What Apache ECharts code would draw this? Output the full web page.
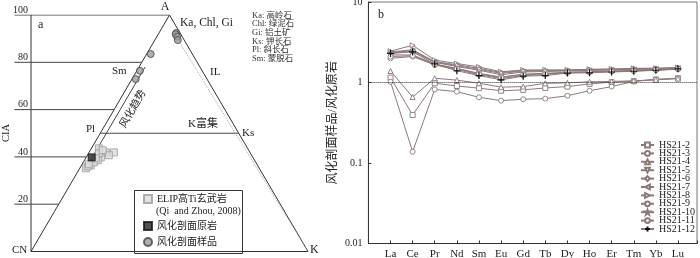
<!DOCTYPE html>
<html><head><meta charset="utf-8">
<script src="https://cdn.jsdelivr.net/npm/echarts@6/dist/echarts.min.js"></script>
<style>html,body{margin:0;padding:0;background:#fff}#c{width:700px;height:258px}</style>
</head><body><div id="c"></div>
<script>
// ===== Panel a : A-CN-K ternary (A = CIA axis, K = K2O share, %) =====
const ciaTicks = [20, 40, 60, 80, 100];
const elipA = [43.6, 41.9, 41.9, 40.7, 39.8, 38.6, 36.4, 35.2, 36.0, 37.7, 41.5, 42.8, 39.4, 36.9];
const elipK = [2.7, 6.05, 8.95, 7.75, 5.3, 4.8, 3.4, 2.2, 2.5, 3.85, 3.75, 4.5, 3.7, 2.45];
const parentA = [39.8];
const parentK = [2.0];
const sampleA = [92.4, 91.9, 90.8, 89.4, 83.5, 76.4, 72.9];
const sampleK = [6.3, 6.25, 7.4, 8.3, 1.45, 1.1, 1.35];
const plKsCIA = 50;
const trendA = [41.5, 78.0];
const trendK = [2.2, 2.2];
const ilA = [88.1, 0];
const ilK = [9.75, 100];

// ===== Panel b : REE patterns =====
const ree = ['La','Ce','Pr','Nd','Sm','Eu','Gd','Tb','Dy','Ho','Er','Tm','Yb','Lu'];
const sampleNames = ['HS21-2','HS21-3','HS21-4','HS21-5','HS21-6','HS21-7','HS21-8','HS21-9','HS21-10','HS21-11','HS21-12'];
const hs21_2  = [1.15, 0.395, 0.98, 0.905, 0.85, 0.79, 0.81, 0.855, 0.89, 0.96, 1.01, 1.04, 1.09, 1.13];
const hs21_3  = [1.02, 0.138, 0.82, 0.77, 0.655, 0.595, 0.62, 0.63, 0.685, 0.79, 0.89, 1.03, 1.09, 1.12];
const hs21_4  = [1.39, 0.66, 1.13, 1.07, 0.98, 0.875, 0.89, 0.975, 0.99, 1.02, 1.03, 1.05, 1.08, 1.12];
const hs21_5  = [2.2, 2.2, 1.7, 1.5, 1.3, 1.17, 1.27, 1.3, 1.34, 1.36, 1.38, 1.41, 1.43, 1.47];
const hs21_6  = [2.35, 2.5, 1.8, 1.62, 1.45, 1.3, 1.38, 1.4, 1.41, 1.43, 1.45, 1.47, 1.48, 1.5];
const hs21_7  = [2.3, 2.45, 1.78, 1.58, 1.42, 1.25, 1.35, 1.37, 1.39, 1.41, 1.43, 1.45, 1.47, 1.5];
const hs21_8  = [2.45, 2.9, 1.9, 1.72, 1.56, 1.36, 1.43, 1.43, 1.43, 1.46, 1.47, 1.5, 1.5, 1.53];
const hs21_9  = [2.0, 2.1, 1.65, 1.45, 1.25, 1.12, 1.22, 1.26, 1.32, 1.34, 1.37, 1.39, 1.42, 1.46];
const hs21_10 = [2.4, 2.55, 1.82, 1.66, 1.5, 1.33, 1.41, 1.42, 1.42, 1.45, 1.46, 1.49, 1.5, 1.53];
const hs21_11 = [2.1, 2.15, 1.68, 1.48, 1.28, 1.15, 1.25, 1.28, 1.33, 1.35, 1.38, 1.4, 1.44, 1.48];
const hs21_12 = [2.3, 2.4, 1.7, 1.4, 1.22, 1.08, 1.2, 1.22, 1.31, 1.32, 1.35, 1.38, 1.42, 1.48];
const sampleValues = [hs21_2, hs21_3, hs21_4, hs21_5, hs21_6, hs21_7, hs21_8, hs21_9, hs21_10, hs21_11, hs21_12];

// ----- helpers -----
const SERIF = '"Liberation Serif","Noto Sans CJK SC",serif';
const X_MIN = -6;
const tern = (A, K) => [K + A / 2, A];
const zip = (As, Ks) => As.map((a, i) => tern(a, Ks[i]));
const lineSeries = (data, style) => ({
  type: 'line', xAxisIndex: 0, yAxisIndex: 0, data: data, symbol: 'none',
  lineStyle: Object.assign({ color: '#333', width: 1 }, style || {}),
  silent: true, animation: false, z: 2
});

const series = [];
series.push(lineSeries([tern(0, 0), tern(100, 0), tern(0, 100), tern(0, 0)]));
series.push(lineSeries([[0, 0], [0, 100]]));  // CIA axis line
ciaTicks.forEach(v => series.push(lineSeries([[X_MIN, v], tern(v, 0)], { color: '#444' })));
series.push(lineSeries([tern(plKsCIA, 0), tern(plKsCIA, 100 - plKsCIA)], { color: '#444' }));
series.push(lineSeries(zip(trendA, trendK), { color: '#444' }));
series.push(lineSeries(zip(ilA, ilK), { color: '#aaa', type: 'dotted' }));
series.push({ name: 'ELIP高Ti玄武岩', type: 'scatter', xAxisIndex: 0, yAxisIndex: 0,
  data: zip(elipA, elipK), symbol: 'rect', symbolSize: 7, z: 3,
  itemStyle: { color: '#dcdcdc', borderColor: '#9a9a9a', borderWidth: 1 } });
series.push({ name: '风化剖面原岩', type: 'scatter', xAxisIndex: 0, yAxisIndex: 0,
  data: zip(parentA, parentK), symbol: 'rect', symbolSize: 7, z: 4,
  itemStyle: { color: '#262626', borderColor: '#111', borderWidth: 1 } });
series.push({ name: '风化剖面样品', type: 'scatter', xAxisIndex: 0, yAxisIndex: 0,
  data: zip(sampleA, sampleK), symbol: 'circle', symbolSize: 7, z: 4,
  itemStyle: { color: '#9c9c9c', borderColor: '#444', borderWidth: 1 } });

// ----- REE series -----
const LC = '#8c7a7a';
const STAR = 'path://M5,0L6.2,3.8L10,3.8L6.9,6.1L8.1,10L5,7.6L1.9,10L3.1,6.1L0,3.8L3.8,3.8Z';
const CROSS = 'path://M5,0L5,10M0,5L10,5';
const markers = [
  { s: 'rect' }, { s: 'circle' }, { s: 'triangle' }, { s: 'triangle', r: 180 },
  { s: 'diamond' }, { s: 'triangle', r: 90 }, { s: 'triangle', r: -90 }, { s: 'circle' },
  { s: STAR }, { s: 'circle' }, { s: CROSS, dark: true }
];
sampleNames.forEach((nm, i) => {
  const m = markers[i];
  const s = {
    name: nm, type: 'line', xAxisIndex: 1, yAxisIndex: 1,
    data: sampleValues[i].map((v, j) => [j, v]),
    symbol: m.s, symbolSize: m.dark ? 7 : 5, symbolRotate: m.r || 0,
    lineStyle: { color: LC, width: 1 },
    itemStyle: m.dark ? { color: '#111', borderColor: '#111', borderWidth: 1.2 }
                      : { color: '#fff', borderColor: '#8a7a7a', borderWidth: 0.9 },
    animation: false, z: 3 + (i > 2 ? 1 : 0)
  };
  if (i === 0) {
    s.markLine = { silent: true, symbol: ['none', 'none'], label: { show: false },
      lineStyle: { color: '#333', type: 'dotted', width: 1 }, data: [{ yAxis: 1 }] };
  }
  series.push(s);
});

const txt = (text, x, y, opt) => {
  opt = opt || {};
  return Object.assign({
    type: 'text', x: x, y: y, z: 10,
    style: Object.assign({ text: text, font: '11px ' + SERIF, fill: '#222',
      align: 'left', verticalAlign: 'middle' }, opt.style || {})
  }, opt.el || {});
};

const mineralLines = ['Ka: 高岭石', 'Chl: 绿泥石', 'Gi: 铝土矿', 'Ks: 钾长石', 'Pl: 斜长石', 'Sm: 蒙脱石'];

const graphic = [
  txt('A', 165, 7, { style: { align: 'center', font: '12px ' + SERIF } }),
  txt('Ka, Chl, Gi', 180, 23, { style: { font: '11.5px ' + SERIF } }),
  txt('IL', 210, 72),
  txt('Sm', 112, 71),
  txt('Pl', 86, 129),
  txt('K富集', 188, 124),
  txt('Ks', 242, 133),
  txt('CN', 12, 250),
  txt('K', 310, 250, { style: { font: '12px ' + SERIF } }),
  txt('a', 38, 25, { style: { font: '12px ' + SERIF } }),
  txt('CIA', 6, 133, { el: { rotation: Math.PI / 2 }, style: { align: 'center', font: '10.5px ' + SERIF } }),
  txt('风化趋势', 133, 109, { el: { rotation: Math.PI / 3 }, style: { align: 'center', font: '10.5px ' + SERIF } }),
  txt('(Qi  and Zhou, 2008)', 156, 211, { style: { font: '10px ' + SERIF } }),
  txt('b', 378, 15, { style: { font: '12px ' + SERIF } }),
  { type: 'rect', shape: { x: 134.5, y: 190.5, width: 108, height: 63 }, style: { fill: 'none', stroke: '#333', lineWidth: 1 }, z: 1 }
];
mineralLines.forEach((t, i) => graphic.push(txt(t, 252, 15.5 + i * 8.6,
  { style: { font: '8.5px ' + SERIF, fill: '#333' } })));

const legText = { fontFamily: SERIF, fontSize: 10, color: '#222' };
const option = {
  backgroundColor: '#fff',
  animation: false,
  textStyle: { fontFamily: SERIF },
  grid: [
    { left: 14.4, right: 392, top: 15, bottom: 6.5, containLabel: false, outerBoundsMode: 'none' },
    { left: 368.4, right: 3, top: 2, bottom: 14.5, containLabel: false, outerBoundsMode: 'none',
      show: true, borderColor: '#777', borderWidth: 1 }
  ],
  xAxis: [
    { gridIndex: 0, type: 'value', min: X_MIN, max: 100, show: false },
    { gridIndex: 1, type: 'value', min: -1, max: 13.86, interval: 1,
      axisLine: { onZero: false, lineStyle: { color: '#333' } },
      axisTick: { inside: true, length: 3, lineStyle: { color: '#333' } },
      splitLine: { show: false },
      axisLabel: { margin: 5, fontSize: 11, color: '#222', fontFamily: SERIF,
        formatter: v => (Number.isInteger(v) && v >= 0 && v < ree.length) ? ree[v] : '' } }
  ],
  yAxis: [
    { gridIndex: 0, type: 'value', min: 0, max: 100, interval: 20,
      axisLine: { show: false }, axisTick: { show: false }, splitLine: { show: false },
      axisLabel: { inside: true, align: 'right', margin: 13.6, fontSize: 10, color: '#222',
        fontFamily: SERIF, verticalAlign: 'bottom',
        formatter: v => (ciaTicks.indexOf(v) >= 0 ? String(v) : '') } },
    { gridIndex: 1, type: 'log', logBase: 10, min: 0.01, max: 10,
      axisLine: { onZero: false, lineStyle: { color: '#333' } },
      axisTick: { inside: true, length: 3, lineStyle: { color: '#333' } },
      splitLine: { show: false }, minorTick: { show: false },
      axisLabel: { margin: 6, fontSize: 10, color: '#222', fontFamily: SERIF, formatter: v => String(v) },
      name: '风化剖面样品/风化原岩', nameLocation: 'middle', nameGap: 30, nameRotate: 90,
      nameTextStyle: { fontSize: 12, color: '#222', fontFamily: SERIF } }
  ],
  legend: [
    { data: ['ELIP高Ti玄武岩'], left: 143, top: 194, padding: 0, itemWidth: 8, itemHeight: 8, selectedMode: false, textStyle: legText },
    { data: ['风化剖面原岩'], left: 143, top: 221, padding: 0, itemWidth: 8, itemHeight: 8, selectedMode: false, textStyle: legText },
    { data: ['风化剖面样品'], left: 143, top: 237, padding: 0, itemWidth: 8, itemHeight: 8, selectedMode: false, textStyle: legText },
    { data: sampleNames, left: 640, top: 140, padding: 0, orient: 'vertical', itemGap: -1.6,
      itemWidth: 13, itemHeight: 6, selectedMode: false, textStyle: legText }
  ],
  graphic: graphic,
  series: series
};
const chart = echarts.init(document.getElementById('c'));
chart.setOption(option);
</script>
</body></html>
